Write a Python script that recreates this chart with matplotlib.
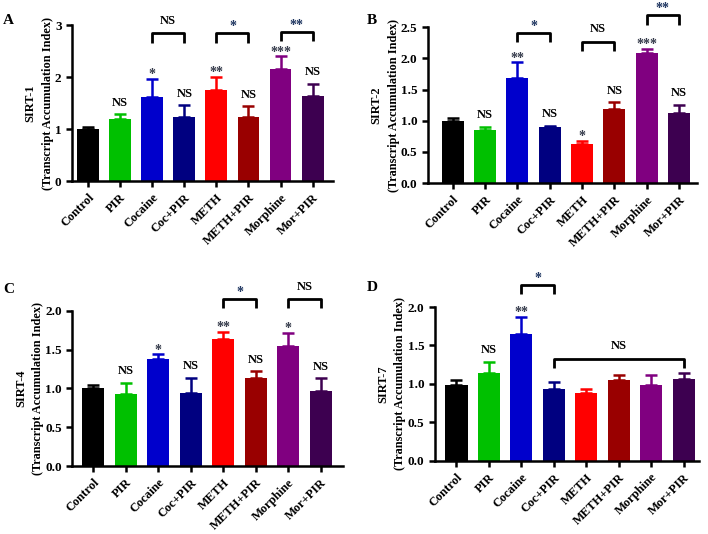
import numpy as np
import matplotlib.pyplot as plt

plt.rcParams['font.family'] = ['Liberation Serif', 'DejaVu Serif']
plt.rcParams['font.weight'] = 'bold'

groups = ['Control', 'PIR', 'Cocaine', 'Coc+PIR', 'METH', 'METH+PIR', 'Morphine', 'Mor+PIR']
colors = ['#000000', '#00c000', '#0000cc', '#000080', '#ff0000', '#990000', '#800080', '#3d0050']

# mean values and upper error (SEM)
sirt1 = [1.0, 1.19, 1.61, 1.24, 1.76, 1.24, 2.15, 1.64]
sirt1_err = [0.03, 0.10, 0.36, 0.22, 0.24, 0.20, 0.25, 0.23]
sirt2 = [0.99, 0.855, 1.68, 0.90, 0.63, 1.19, 2.09, 1.13]
sirt2_err = [0.06, 0.05, 0.26, 0.02, 0.05, 0.11, 0.06, 0.13]
sirt4 = [1.0, 0.925, 1.38, 0.946, 1.64, 1.14, 1.55, 0.97]
sirt4_err = [0.045, 0.15, 0.06, 0.19, 0.09, 0.085, 0.17, 0.16]
sirt7 = [0.99, 1.14, 1.65, 0.93, 0.885, 1.05, 0.99, 1.06]
sirt7_err = [0.06, 0.15, 0.22, 0.09, 0.055, 0.06, 0.12, 0.085]

# significance labels over bars
sig1 = ['', 'NS', '*', 'NS', '**', 'NS', '***', 'NS']
sig2 = ['', 'NS', '**', 'NS', '*', 'NS', '***', 'NS']
sig4 = ['', 'NS', '*', 'NS', '**', 'NS', '*', 'NS']
sig7 = ['', 'NS', '**', '', '', '', '', '']

# brackets: (from, to, label, height)
br1 = [(2, 3, 'NS', 2.84), (4, 5, '*', 2.84), (6, 7, '**', 2.87)]
br2 = [(2, 3, '*', 2.41), (4, 5, 'NS', 2.27), (6, 7, '**', 2.69)]
br4 = [(4, 5, '*', 2.15), (6, 7, 'NS', 2.15)]
br7 = [(2, 3, '*', 2.29), (3, 7, 'NS', 1.33)]

star_col = '#343a4a'
br_star_col = '#1e3560'

panels = [
    ('A', 'SIRT-1', sirt1, sirt1_err, sig1, br1, 3.0, [0, 1, 2, 3], ['0', '1', '2', '3'],
     [0.1017, 0.661, 0.368, 0.292], (-0.5, 7.62), (3, 14)),
    ('B', 'SIRT-2', sirt2, sirt2_err, sig2, br2, 2.5, np.arange(0, 2.51, 0.5), None,
     [0.6045, 0.657, 0.38, 0.292], (-0.77, 7.56), (367, 14)),
    ('C', 'SIRT-4', sirt4, sirt4_err, sig4, br4, 2.0, np.arange(0, 2.01, 0.5), None,
     [0.102, 0.127, 0.382, 0.291], (-0.64, 7.67), (3, 283)),
    ('D', 'SIRT-7', sirt7, sirt7_err, sig7, br7, 2.0, np.arange(0, 2.01, 0.5), None,
     [0.614, 0.137, 0.373, 0.288], (-0.67, 7.46), (367, 281)),
]

fig = plt.figure(figsize=(7.08, 5.34), dpi=100)
x = np.arange(len(groups))

for letter, name, vals, errs, sigs, brs, ymax, yt, ytl, pos, xl, lp in panels:
    ax = fig.add_axes(pos)
    ax.bar(x, vals, width=0.68, color=colors, zorder=2)
    for i in range(len(x)):
        ax.errorbar(x[i], vals[i], yerr=[[0], [errs[i]]], color=colors[i],
                    capsize=4.5, elinewidth=1.8, capthick=1.8, zorder=1)
        if sigs[i]:
            top = vals[i] + errs[i] + 0.015 * ymax
            if sigs[i] == 'NS':
                ax.text(x[i], top + 0.02 * ymax, 'NS', ha='center', va='bottom',
                        fontsize=9, fontweight='bold', color='black')
            else:
                ax.text(x[i], top - 0.03 * ymax, sigs[i], ha='center', va='bottom',
                        fontsize=10, color=star_col)
    drop = 0.06 * ymax
    for a, b, lab, h in brs:
        ax.plot([x[a], x[a], x[b], x[b]], [h - drop, h, h, h - drop], color='black',
                lw=2, clip_on=False, solid_capstyle='butt')
        if lab == 'NS':
            ax.text((x[a] + x[b]) / 2, h + 0.04 * ymax, 'NS', ha='center', va='bottom',
                    fontsize=9, fontweight='bold', color='black')
        else:
            ax.text((x[a] + x[b]) / 2, h, lab, ha='center', va='bottom',
                    fontsize=10, color=br_star_col)
    ax.set_ylim(0, ymax)
    ax.set_xlim(*xl)
    ax.set_yticks(yt)
    if ytl is not None:
        ax.set_yticklabels(ytl)
    else:
        ax.set_yticklabels(['%.1f' % v for v in yt])
    ax.set_xticks(x)
    ax.set_xticklabels(groups, rotation=45, ha='right', rotation_mode='anchor')
    ax.spines['top'].set_visible(False)
    ax.spines['right'].set_visible(False)
    ax.spines['left'].set_linewidth(1.8)
    ax.spines['bottom'].set_linewidth(1.8)
    ax.tick_params(axis='both', width=1.8, length=4, labelsize=9)
    ax.tick_params(axis='y', labelsize=9.5)
    for t in ax.get_xticklabels() + ax.get_yticklabels():
        t.set_fontweight('bold')
    ax.set_ylabel('(Transcript Accumulation Index)', fontsize=8.8,
                  fontweight='bold', labelpad=1)
    ax.annotate(name, xy=(0, 0.5), xycoords=ax.yaxis.label, xytext=(-3.5, 0),
                textcoords='offset points', ha='right', va='center', rotation=90,
                fontsize=8.8, fontweight='bold')
    fig.text(lp[0] / 708, 1 - lp[1] / 534, letter, fontsize=11, fontweight='bold',
             ha='left', va='top')

fig.savefig('out.png', dpi=100)
